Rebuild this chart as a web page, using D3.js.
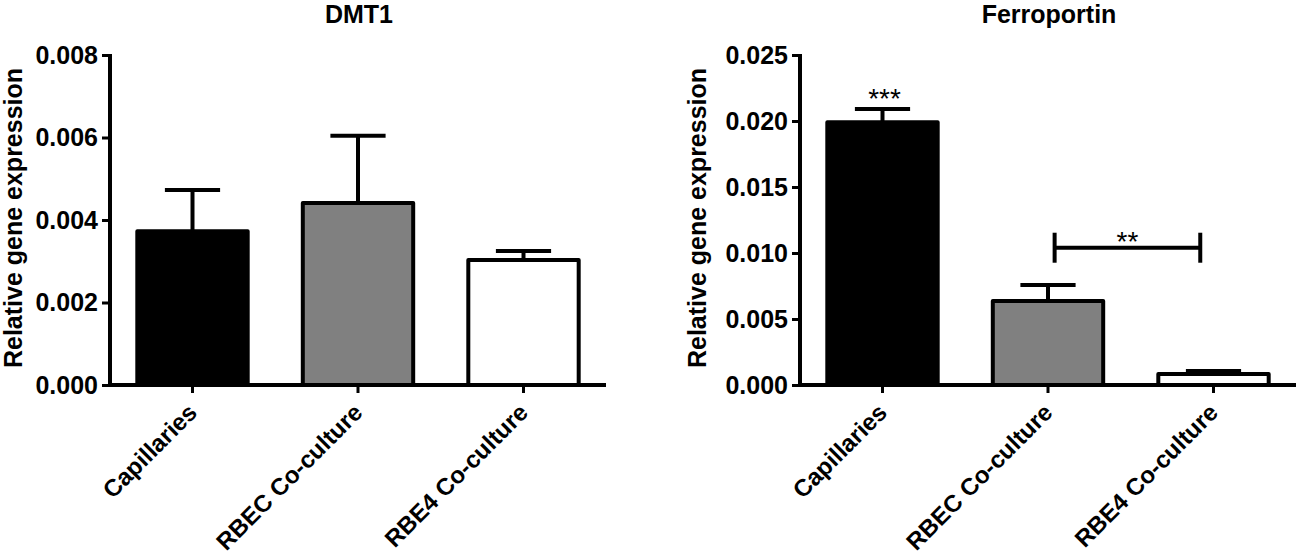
<!DOCTYPE html>
<html>
<head>
<meta charset="utf-8">
<script src="https://cdn.jsdelivr.net/npm/d3@7"></script>
<style>
  body { margin: 0; background: #fff; }
  svg { display: block; }
  text { font-family: "Liberation Sans", Arial, Helvetica, sans-serif; }
</style>
</head>
<body>
<svg id="chart" width="1300" height="560"></svg>
<script>
// ---- data ----
const categories = ["Capillaries", "RBEC Co-culture", "RBE4 Co-culture"];
const barFills = ["#000000", "#808080", "#ffffff"];

const dmt1Title = "DMT1";
const dmt1Mean = [0.00373, 0.00441, 0.00303];
const dmt1Err  = [0.00100, 0.00163, 0.00022];
const dmt1Ticks = [0, 0.002, 0.004, 0.006, 0.008];
const dmt1Max = 0.008;

const ferroTitle = "Ferroportin";
const ferroMean = [0.0199, 0.00636, 0.00083];
const ferroErr  = [0.00101, 0.00122, 0.00023];
const ferroTicks = [0, 0.005, 0.010, 0.015, 0.020, 0.025];
const ferroMax = 0.025;

// significance annotations
const ferroStars = [{ cat: "Capillaries", label: "***" }];
const ferroBracket = { from: "RBEC Co-culture", to: "RBE4 Co-culture", value: 0.0104, label: "**" };

const yLabel = "Relative gene expression";

// ---- drawing ----
const svg = d3.select("#chart");
const plotTop = 55, plotBottom = 385;
const FS = 25;

function panel(opts) {
  const g = svg.append("g");
  const x = d3.scaleBand().domain(categories)
    .range([opts.x0, opts.x0 + 496]).paddingInner(0.333).paddingOuter(0.165);
  const y = d3.scaleLinear().domain([0, opts.max]).range([plotBottom, plotTop]);

  // title
  g.append("text")
    .attr("x", (opts.x0 + opts.x0 + 498) / 2).attr("y", 23)
    .attr("text-anchor", "middle")
    .attr("font-size", FS).attr("font-weight", "bold")
    .text(opts.title);

  // y label
  g.append("text")
    .attr("transform", `translate(${opts.labelX},${(plotTop + plotBottom) / 2 - 2}) rotate(-90)`)
    .attr("text-anchor", "middle")
    .attr("font-size", FS).attr("font-weight", "bold")
    .text(yLabel);

  const data = categories.map((c, i) => ({ c, m: opts.mean[i], e: opts.err[i], fill: barFills[i] }));

  // error bars (upper only)
  const eb = g.append("g").attr("stroke", "#000").attr("stroke-width", 4);
  eb.selectAll("line.v").data(data).join("line")
    .attr("x1", d => x(d.c) + x.bandwidth() / 2).attr("x2", d => x(d.c) + x.bandwidth() / 2)
    .attr("y1", d => y(d.m)).attr("y2", d => y(d.m + d.e));
  eb.selectAll("line.cap").data(data).join("line")
    .attr("x1", d => x(d.c) + x.bandwidth() * 0.25).attr("x2", d => x(d.c) + x.bandwidth() * 0.75)
    .attr("y1", d => y(d.m + d.e)).attr("y2", d => y(d.m + d.e));

  // bars
  g.selectAll("rect.bar").data(data).join("rect")
    .attr("class", "bar")
    .attr("x", d => x(d.c)).attr("width", x.bandwidth())
    .attr("y", d => y(d.m)).attr("height", d => y(0) - y(d.m))
    .attr("fill", d => d.fill).attr("stroke", "#000").attr("stroke-width", 4)
    .attr("stroke-linejoin", "round");

  // y axis
  const ya = g.append("g").attr("transform", `translate(${opts.x0},0)`)
    .call(d3.axisLeft(y).tickValues(opts.ticks).tickFormat(d3.format(".3f")).tickSize(8).tickPadding(4));
  ya.select(".domain").attr("stroke-width", 4).attr("d", `M0,${plotTop - 1}V${plotBottom}`);
  ya.selectAll(".tick line").attr("stroke-width", 3);
  ya.selectAll(".tick text").attr("font-size", FS).attr("font-weight", "bold")
    .attr("font-family", "Liberation Sans, Arial, sans-serif").attr("fill", "#000");

  // x axis
  const xa = g.append("g").attr("transform", `translate(0,${plotBottom})`)
    .call(d3.axisBottom(x).tickSize(8).tickSizeOuter(0));
  xa.select(".domain").attr("stroke-width", 4).attr("d", `M${opts.x0 - 2},0H${opts.x0 + 496}`);
  xa.selectAll(".tick line").attr("stroke-width", 3);
  xa.selectAll(".tick text")
    .attr("font-size", 24).attr("font-weight", "bold")
    .attr("font-family", "Liberation Sans, Arial, sans-serif").attr("fill", "#000")
    .attr("text-anchor", "end")
    .attr("dy", null).attr("y", 0)
    .attr("transform", "translate(6,29) rotate(-45)");

  return { g, x, y };
}

panel({ x0: 110, title: dmt1Title, mean: dmt1Mean, err: dmt1Err, ticks: dmt1Ticks, max: dmt1Max, labelX: 22 });
const fp = panel({ x0: 800, title: ferroTitle, mean: ferroMean, err: ferroErr, ticks: ferroTicks, max: ferroMax, labelX: 706 });

// stars above capillaries bar
ferroStars.forEach(s => {
  const i = categories.indexOf(s.cat);
  fp.g.append("text")
    .attr("x", fp.x(s.cat) + fp.x.bandwidth() / 2 + 2)
    .attr("y", fp.y(ferroMean[i] + ferroErr[i]) - 1)
    .attr("text-anchor", "middle").attr("font-size", 28)
    .text(s.label);
});

// bracket
{
  const step = fp.x.step();
  const xa = fp.x(ferroBracket.from) + fp.x.bandwidth() / 2 + step * 0.04;
  const xb = fp.x(ferroBracket.to) + fp.x.bandwidth() / 2 - step * 0.08;
  const yb = fp.y(ferroBracket.value);
  const bg = fp.g.append("g").attr("stroke", "#000").attr("stroke-width", 4);
  bg.append("line").attr("x1", xa).attr("x2", xb).attr("y1", yb).attr("y2", yb);
  bg.append("line").attr("x1", xa).attr("x2", xa).attr("y1", yb - 15).attr("y2", yb + 15);
  bg.append("line").attr("x1", xb).attr("x2", xb).attr("y1", yb - 15).attr("y2", yb + 15);
  fp.g.append("text")
    .attr("x", (xa + xb) / 2).attr("y", yb + 3)
    .attr("text-anchor", "middle").attr("font-size", 28)
    .text(ferroBracket.label);
}
</script>
</body>
</html>
